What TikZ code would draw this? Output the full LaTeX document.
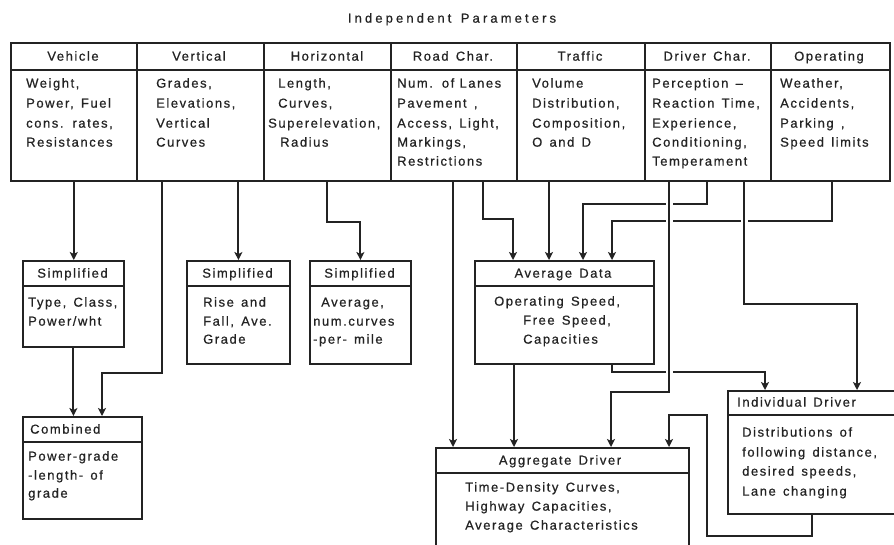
\documentclass[tikz,border=0pt]{standalone}
\usepackage{fontspec}
\setmainfont[LetterSpace=12,WordSpace=1.4,FakeBold=0.6]{Liberation Sans}
\newfontfamily\titlefont[LetterSpace=24,WordSpace=1.4,FakeBold=0.6]{Liberation Sans}
\usetikzlibrary{arrows.meta}
\definecolor{ink}{RGB}{35,35,35}
\begin{document}
\begin{tikzpicture}[x=1pt,y=-1pt,
  box/.style={draw=ink, line width=1.8pt, inner sep=0pt, anchor=north west},
  colbox/.style={draw=ink, line width=1.5pt, inner sep=0pt, anchor=north west, minimum height=138pt},
  sep/.style={draw=ink, line width=1.5pt},
  wire/.style={draw=ink, line width=1.9pt},
  arr/.style={wire, -{Stealth[length=8pt,width=8pt,inset=2pt]}},
  halo/.style={draw=white, line width=7pt},
  tl/.style={anchor=west, inner sep=0pt, text height=9.3pt, text depth=0pt,
             font=\fontsize{13}{15}\selectfont, text=ink},
  th/.style={tl, anchor=center}]
\useasboundingbox (0,0) rectangle (894,544);
\fill[white] (0,0) rectangle (894,544);
\clip (0,0) rectangle (894,544);

% ---- title and parameter table ----
\node[th, font=\fontsize{13}{15}\titlefont] (title) at (452,18) {Independent Parameters};
\node[colbox, minimum width=126pt] (c1) at (10,42) {};
\node[colbox, minimum width=127pt] (c2) at (136,42) {};
\node[colbox, minimum width=127pt] (c3) at (263,42) {};
\node[colbox, minimum width=126pt] (c4) at (390,42) {};
\node[colbox, minimum width=128pt] (c5) at (516,42) {};
\node[colbox, minimum width=126pt] (c6) at (644,42) {};
\node[colbox, minimum width=119pt] (c7) at (770,42) {};
\draw[sep] ([yshift=-28pt]c1.north west) -- ([yshift=-28pt]c7.north east);

\node[th] (h1) at (73,56) {Vehicle};
\node[th] (h2) at (199,56) {Vertical};
\node[th] (h3) at (327,56) {Horizontal};
\node[th] (h4) at (453,56) {Road Char.};
\node[th] (h5) at (580,56) {Traffic};
\node[th] (h6) at (707,56) {Driver Char.};
\node[th] (h7) at (829,56) {Operating};

\node[tl] (b1a) at (26,83) {Weight,};
\node[tl] (b1b) at (26,103) {Power, Fuel};
\node[tl] (b1c) at (26,123) {cons. rates,};
\node[tl] (b1d) at (26,142) {Resistances};

\node[tl] (b2a) at (156,83) {Grades,};
\node[tl] (b2b) at (156,103) {Elevations,};
\node[tl] (b2c) at (156,123) {Vertical};
\node[tl] (b2d) at (156,142) {Curves};

\node[tl] (b3a) at (278,83) {Length,};
\node[tl] (b3b) at (278,103) {Curves,};
\node[tl] (b3c) at (268,123) {Superelevation,};
\node[tl] (b3d) at (280,142) {Radius};

\node[tl] (b4a) at (397,83) {Num. of\hspace{-2pt} Lanes};
\node[tl] (b4b) at (397,103) {Pavement ,};
\node[tl] (b4c) at (397,123) {Access, Light,};
\node[tl] (b4d) at (397,142) {Markings,};
\node[tl] (b4e) at (397,161) {Restrictions};

\node[tl] (b5a) at (532,83) {Volume};
\node[tl] (b5b) at (532,103) {Distribution,};
\node[tl] (b5c) at (532,123) {Composition,};
\node[tl] (b5d) at (532,142) {O and D};

\node[tl] (b6a) at (652,83) {Perception –};
\node[tl] (b6b) at (652,103) {Reaction Time,};
\node[tl] (b6c) at (652,123) {Experience,};
\node[tl] (b6d) at (652,142) {Conditioning,};
\node[tl] (b6e) at (652,161) {Temperament};

\node[tl] (b7a) at (780,83) {Weather,};
\node[tl] (b7b) at (780,103) {Accidents,};
\node[tl] (b7c) at (780,123) {Parking ,};
\node[tl] (b7d) at (780,142) {Speed limits};

% ---- derived boxes ----
\node[box, minimum width=101pt, minimum height=86pt] (s1) at (22,260) {};
\node[box, minimum width=103pt, minimum height=103pt] (s2) at (186,260) {};
\node[box, minimum width=101pt, minimum height=103pt] (s3) at (309,260) {};
\node[box, minimum width=119pt, minimum height=102pt] (cb) at (22,416) {};
\node[box, minimum width=179pt, minimum height=103pt] (ad) at (474,260) {};
\node[box, minimum width=253pt, minimum height=120pt] (ag) at (435,447) {};
\node[box, minimum width=175pt, minimum height=123pt] (id) at (727,390) {};
\foreach \b/\d in {s1/26,s2/26,s3/26,ad/26,cb/26,ag/26,id/25}
  \draw[sep] ([yshift=-\d pt]\b.north west) -- ([yshift=-\d pt]\b.north east);

\node[th] (s1h) at (72.5,273) {Simplified};
\node[tl] (s1a) at (28,302) {Type, Class,};
\node[tl] (s1b) at (28,321) {Power/wht};

\node[th] (s2h) at (237.5,273) {Simplified};
\node[tl] (s2a) at (203,302) {Rise and};
\node[tl] (s2b) at (203,321) {Fall, Ave.};
\node[tl] (s2c) at (203,339) {Grade};

\node[th] (s3h) at (359.5,273) {Simplified};
\node[tl] (s3a) at (321,302) {Average,};
\node[tl] (s3b) at (313,321) {num.curves};
\node[tl] (s3c) at (313,339) {-per- mile};

\node[tl] (cbh) at (30,429) {Combined};
\node[tl] (cba) at (28,456) {Power-grade};
\node[tl] (cbb) at (28,475) {-length- of};
\node[tl] (cbc) at (28,493) {grade};

\node[th] (adh) at (563,273) {Average Data};
\node[tl] (ada) at (494,301) {Operating Speed,};
\node[tl] (adb) at (523,320) {Free Speed,};
\node[tl] (adc) at (523,339) {Capacities};

\node[th] (agh) at (560,460) {Aggregate Driver};
\node[tl] (aga) at (465,487) {Time-Density Curves,};
\node[tl] (agb) at (465,506) {Highway Capacities,};
\node[tl] (agc) at (465,525) {Average Characteristics};

\node[tl] (idh) at (737,402) {Individual Driver};
\node[tl] (ida) at (742,432) {Distributions of};
\node[tl] (idb) at (742,452) {following distance,};
\node[tl] (idc) at (742,471) {desired speeds,};
\node[tl] (idd) at (742,491) {Lane changing};

% ---- connector end points on the table ----
\coordinate (p2) at (162,180);
\coordinate (p3) at (327,180);
\coordinate (p4a) at (453,180);
\coordinate (p4b) at (483,180);
\coordinate (p5) at (549,180);
\coordinate (p6a) at (669,180);
\coordinate (p6b) at (707,180);
\coordinate (p6c) at (744,180);
\coordinate (p7) at (832,180);
\coordinate (k2) at (102,373);
\coordinate (ad1) at (513,260);
\coordinate (ad3) at (583,260);
\coordinate (ad4) at (612,260);
\coordinate (ag3) at (611,447);
\coordinate (ag4) at (669,447);
\coordinate (id1) at (765,390);
\coordinate (id2) at (857,390);

% ---- connectors ----
\draw[arr] (c1.south) -- (c1.south |- s1.north);
\draw[arr] (s1.south) -- (s1.south |- cb.north);
\draw[arr] (p2) -- (p2 |- k2) -- (k2) -- (k2 |- cb.north);
\draw[arr] (s2.north |- c2.south) -- (s2.north);
\draw[arr] (p3) -- (327,222) -| (s3.north);

\draw[arr] (p4b) -- (483,219) -| (ad1);
\draw[arr] (p5) -- (p5 |- ad.north);
\draw[arr] (p6b) -- (707,204) -| (ad3);
\draw[arr] (p7) -- (832,221) -| (ad4);
\draw[arr] (612,363) -- (612,372) -| (id1);

% crossing gaps, then the lines that pass over
\draw[halo] (669,186) -- (669,386);
\draw[halo] (744,186) -- (744,298);
\draw[arr] (p6a) -- (669,392) -| (ag3);
\draw[arr] (p6c) -- (744,304) -| (id2);

\draw[arr] (p4a) -- (p4a |- ag.north);
\draw[arr] (514,363) -- (514,447);
\draw[arr] (812,513) -- (812,536) -- (707,536) -- (707,415) -| (ag4);
\end{tikzpicture}
\end{document}
